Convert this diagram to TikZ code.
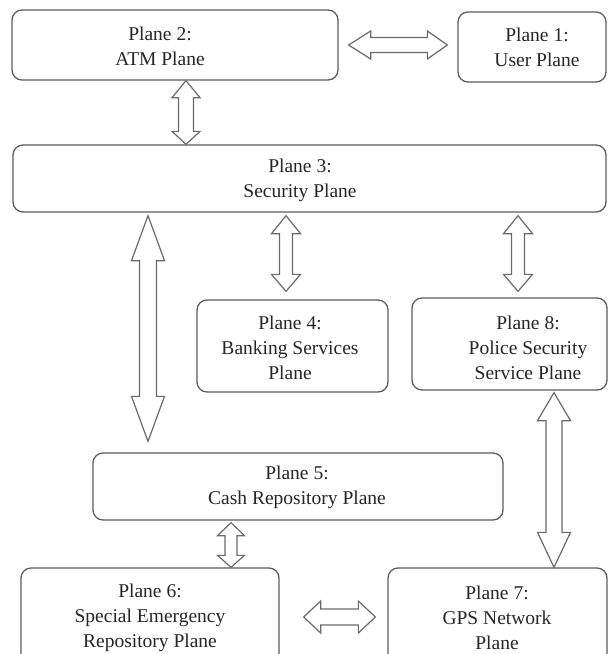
\documentclass[tikz,border=0pt]{standalone}
\usepackage{fontspec}
\setmainfont{Liberation Serif}
\usetikzlibrary{calc}
\definecolor{boxline}{HTML}{5C5C5C}
\definecolor{arrline}{HTML}{6A6A6A}
\definecolor{txtcol}{HTML}{262626}
\tikzset{
  planebox/.style={draw=boxline, line width=1.3pt, rounded corners=10pt, fill=white, inner sep=0pt},
  planetxt/.style={align=center, text=txtcol, inner sep=0pt, font=\fontsize{19.5}{25}\selectfont},
  blockarr/.style={draw=arrline, line width=1.2pt, fill=white, line join=miter},
}
% vertical block arrow: #1 x (px), #2 top point, #3 bottom point, #4 shaft half, #5 head half, #6 top head length, #7 bottom head length
\newcommand\vblockarr[7]{%
  \draw[blockarr] let \p1=#2, \p2=#3 in
    (#1pt,\y1) -- (#1pt+#5pt,\y1-#6pt) -- (#1pt+#4pt,\y1-#6pt) -- (#1pt+#4pt,\y2+#7pt)
    -- (#1pt+#5pt,\y2+#7pt) -- (#1pt,\y2) -- (#1pt-#5pt,\y2+#7pt) -- (#1pt-#4pt,\y2+#7pt)
    -- (#1pt-#4pt,\y1-#6pt) -- (#1pt-#5pt,\y1-#6pt) -- cycle;}
% horizontal block arrow: #1 y (px, downward), #2 left point, #3 right point, #4 shaft half, #5 head half, #6 left head length, #7 right head length
\newcommand\hblockarr[7]{%
  \draw[blockarr] let \p1=#2, \p2=#3 in
    (\x1,-#1pt) -- (\x1+#6pt,-#1pt+#5pt) -- (\x1+#6pt,-#1pt+#4pt) -- (\x2-#7pt,-#1pt+#4pt)
    -- (\x2-#7pt,-#1pt+#5pt) -- (\x2,-#1pt) -- (\x2-#7pt,-#1pt-#5pt) -- (\x2-#7pt,-#1pt-#4pt)
    -- (\x1+#6pt,-#1pt-#4pt) -- (\x1+#6pt,-#1pt-#5pt) -- cycle;}
\begin{document}
\begin{tikzpicture}[x=1pt,y=-1pt]
\useasboundingbox[fill=white] (0,0) rectangle (609,654);

% boxes
\node[planebox, minimum width=326, minimum height=70] (p2) at (175,45) {};
\node[planebox, minimum width=148, minimum height=70] (p1) at (532,47) {};
\node[planebox, minimum width=593, minimum height=67] (p3) at (309.5,178.5) {};
\node[planebox, minimum width=191, minimum height=92] (p4) at (292.5,346) {};
\node[planebox, minimum width=195, minimum height=92] (p8) at (509.5,344) {};
\node[planebox, minimum width=410, minimum height=67] (p5) at (298,486.5) {};
\node[planebox, minimum width=258, minimum height=122] (p6) at (150,629) {};
\node[planebox, minimum width=219, minimum height=122] (p7) at (497.5,629) {};

% texts
\node[planetxt] (t2) at (160,46) {Plane 2:\\ATM Plane};
\node[planetxt] (t1) at (537,47) {Plane 1:\\User Plane};
\node[planetxt] (t3) at (300,180) {Plane 3:\\Security Plane};
\node[planetxt] (t4) at (290,348) {Plane 4:\\Banking Services\\Plane};
\node[planetxt] (t8) at (528,348) {Plane 8:\\Police Security\\Service Plane};
\node[planetxt] (t5) at (297,487.5) {Plane 5:\\Cash Repository Plane};
\node[planetxt] (t6) at (150,617.5) {Plane 6:\\Special Emergency\\Repository Plane};
\node[planetxt] (t7) at (497,617.5) {Plane 7:\\GPS Network\\Plane};

% connectors
\hblockarr{45}{($(p2.east)+(10,0)$)}{($(p1.west)+(-10,0)$)}{7.5}{14}{22}{20}
\vblockarr{186}{(p2.south)}{(p3.north)}{7.5}{14}{17}{13}
\vblockarr{286}{($(p3.south)+(0,3)$)}{($(p4.north)+(0,-8)$)}{6.5}{14.5}{18}{17}
\vblockarr{518}{($(p3.south)+(0,3)$)}{($(p8.north)+(0,-6)$)}{6.5}{14.5}{18}{17}
\vblockarr{148}{($(p3.south)+(0,3)$)}{($(p5.north)+(0,-11)$)}{8.5}{16.5}{45}{45}
\vblockarr{554}{($(p8.south)+(0,2)$)}{(p7.north)}{8}{16.5}{28}{35}
\vblockarr{231}{($(p5.south)+(0,2)$)}{(p6.north)}{6}{13.5}{13}{12}
\hblockarr{617}{($(p6.east)+(24,0)$)}{($(p7.west)+(-12,0)$)}{8}{16}{17}{17}
\end{tikzpicture}
\end{document}
